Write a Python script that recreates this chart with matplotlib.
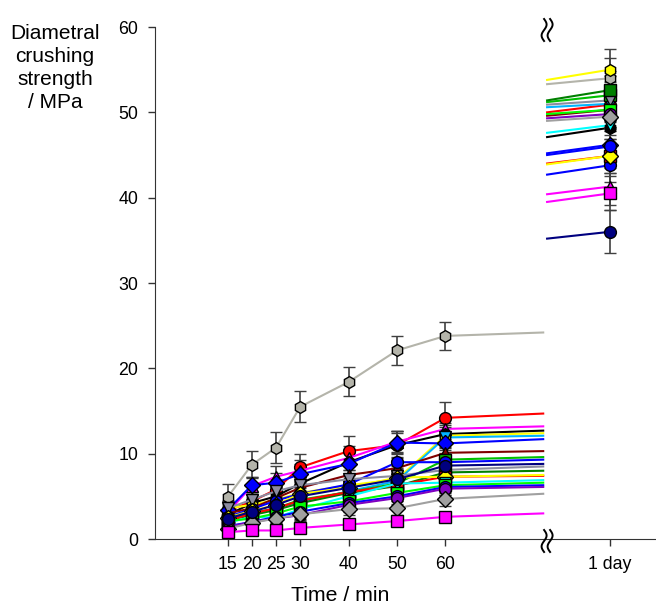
import numpy as np
import matplotlib
matplotlib.use("Agg")
import matplotlib.pyplot as plt
from matplotlib.lines import Line2D
from matplotlib.transforms import IdentityTransform

plt.rcParams['font.family'] = ['Liberation Sans', 'DejaVu Sans']

# Data
times = [15, 20, 25, 30, 40, 50, 60]
tick_labels = ['15', '20', '25', '30', '40', '50', '60', '1 day']
day_pos = 94        # where "1 day" sits on the broken axis
left_end_x = 80.2   # fitted curve drawn up to the break
right_start_x = 81.0

# (colour, marker): values at 15..60 min, fitted value at break (left),
# fitted value after break (right), 1-day value, errors
colors = ['#b4b4aa', '#ff0000', '#ff00ff', '#000000', '#ffff00', '#00b4ff',
          '#0000ff', '#800000', '#00c000', '#0000ff', '#8c8ca0', '#008000',
          '#ff0000', '#ffff00', '#00ffff', '#00ff00', '#0000ff', '#8000c0',
          '#a0a0a0', '#ff00ff', '#000080']
markers = ['h', 'o', '^', 'h', 'h', 'v', 'D', '^', 's', 'o', 'v', 's',
           's', 'D', 'v', 's', 'o', 'o', 'D', 's', 'o']

values = [
    [4.9, 8.7, 10.7, 15.5, 18.4, 22.1, 23.8],
    [3.3, 4.4, 5.8, 8.4, 10.3, 11.0, 14.2],
    [3.1, 6.2, 7.3, 8.0, 9.5, 11.4, 12.9],
    [2.8, 4.2, 5.0, 6.5, 9.0, 11.0, 12.3],
    [3.6, 4.0, 4.6, 5.4, 6.3, 7.0, 12.1],
    [2.2, 3.0, 3.6, 4.3, 5.6, 6.8, 11.9],
    [3.4, 6.3, 6.6, 7.6, 8.8, 11.3, 11.2],
    [3.0, 3.6, 4.8, 6.0, 7.5, 8.3, 10.1],
    [2.4, 3.0, 3.6, 4.6, 5.5, 6.5, 9.3],
    [2.6, 3.5, 4.5, 5.3, 6.4, 9.0, 9.0],
    [3.6, 4.6, 5.6, 6.3, 7.0, 7.4, 8.1],
    [2.2, 2.8, 3.4, 4.2, 5.4, 6.2, 7.8],
    [2.1, 3.0, 3.6, 4.5, 5.5, 6.3, 7.3],
    [2.5, 3.3, 4.0, 5.3, 6.0, 7.2, 7.3],
    [1.9, 2.6, 2.5, 3.5, 5.0, 6.5, 6.6],
    [2.1, 2.4, 3.0, 3.8, 4.4, 5.4, 6.3],
    [1.5, 2.0, 2.6, 3.2, 4.2, 5.0, 6.1],
    [1.4, 2.0, 2.4, 2.8, 4.0, 4.8, 5.9],
    [1.2, 1.9, 2.4, 2.9, 3.5, 3.6, 4.7],
    [0.8, 1.0, 1.0, 1.3, 1.7, 2.1, 2.6],
    [2.4, 3.2, 4.0, 5.0, 6.0, 7.0, 8.6],
]
errors = [
    [1.5, 1.6, 1.8, 1.8, 1.7, 1.7, 1.6],
    [1.0, 1.1, 1.2, 1.6, 1.8, 1.7, 1.8],
    [1.0, 1.1, 1.2, 1.3, 1.4, 1.3, 1.2],
    [0.9, 1.0, 1.1, 1.3, 1.5, 1.4, 1.3],
    [0.9, 0.9, 1.0, 1.1, 1.2, 1.2, 1.3],
    [0.8, 0.9, 1.0, 1.0, 1.1, 1.2, 1.2],
    [0.9, 1.0, 1.1, 1.2, 1.3, 1.3, 1.2],
    [0.8, 0.9, 1.0, 1.1, 1.2, 1.2, 1.2],
    [0.7, 0.8, 0.9, 1.0, 1.1, 1.1, 1.1],
    [0.7, 0.8, 0.9, 1.0, 1.1, 1.2, 1.1],
    [0.8, 0.9, 1.0, 1.0, 1.1, 1.1, 1.0],
    [0.7, 0.8, 0.8, 0.9, 1.0, 1.0, 1.0],
    [0.7, 0.8, 0.8, 0.9, 1.0, 1.0, 1.0],
    [0.7, 0.8, 0.9, 1.0, 1.0, 1.1, 1.0],
    [0.6, 0.7, 0.8, 0.8, 0.9, 1.0, 0.9],
    [0.6, 0.7, 0.7, 0.8, 0.9, 0.9, 0.9],
    [0.6, 0.6, 0.7, 0.8, 0.8, 0.9, 0.9],
    [0.5, 0.6, 0.7, 0.7, 0.8, 0.8, 0.8],
    [0.5, 0.6, 0.6, 0.7, 0.7, 0.8, 0.8],
    [0.4, 0.4, 0.4, 0.5, 0.5, 0.5, 0.5],
    [0.7, 0.8, 0.9, 1.0, 1.0, 1.1, 1.1],
]
left_end = [24.2, 14.7, 13.2, 12.7, 12.4, 12.1, 11.7, 10.3, 9.6, 9.3, 8.5,
            8.0, 7.4, 7.5, 6.9, 6.6, 6.3, 6.1, 5.3, 3.0, 8.8]
right_start = [53.3, 50.0, 40.4, 47.1, 53.8, 50.6, 45.2, 49.6, 51.2, 42.7, 50.9,
               51.4, 44.0, 43.9, 47.6, 49.8, 45.0, 49.3, 49.0, 39.5, 35.2]
day1 = [54.0, 50.9, 41.3, 48.2, 55.0, 51.0, 46.2, 50.3, 52.0, 43.8, 51.4,
        52.6, 44.9, 44.9, 48.5, 50.3, 46.0, 49.8, 49.5, 40.5, 36.0]
day1_err = [2.4, 2.0, 2.2, 2.2, 2.4, 2.0, 2.1, 2.0, 2.2, 2.0, 2.1,
            2.3, 2.0, 2.0, 2.1, 2.1, 2.0, 2.0, 2.1, 2.0, 2.5]

fig = plt.figure(figsize=(6.56, 6.05), dpi=100)
ax = fig.add_axes([155 / 656, 66 / 605, 501 / 656, 512 / 605])

for c, m, v, e, le, rs, d, de in zip(colors, markers, values, errors,
                                     left_end, right_start, day1, day1_err):
    ax.plot([60, left_end_x], [v[-1], le], color=c, lw=1.5, zorder=2)
    ax.plot([right_start_x, day_pos], [rs, d], color=c, lw=1.5, zorder=2)
    ax.errorbar(times, v, yerr=e, color=c, lw=1.5, marker=m, ms=8.5,
                mfc=c, mec='black', mew=1.0, ecolor='#404040', elinewidth=1.2,
                capsize=4.5, capthick=1.2, zorder=3)
    ax.errorbar([day_pos], [d], yerr=[de], fmt=m, ms=8.5, mfc=c, mec='black',
                mew=1.0, ecolor='#404040', elinewidth=1.2, capsize=4.5,
                capthick=1.2, zorder=3)

ax.set_xlim(0, 103.5)
ax.set_ylim(0, 60)
ax.spines['top'].set_visible(False)
ax.spines['right'].set_visible(False)
ax.spines['left'].set_color('#333333')
ax.spines['bottom'].set_color('#333333')
ax.set_xticks(times + [day_pos])
ax.set_xticklabels(tick_labels)
ax.set_yticks(range(0, 61, 10))
ax.tick_params(direction='out', length=5, width=1, labelsize=12.8,
               color='#333333', pad=7)

ax.set_xlabel('Time / min', fontsize=15.3, va='center')
ax.xaxis.set_label_coords(0.37, -0.111)
fig.text(55 / 656, 1 - 24 / 605, 'Diametral\ncrushing\nstrength\n/ MPa',
         ha='center', va='top', fontsize=15, linespacing=1.27)

# axis break marks
def break_mark(xd, yd):
    t = np.linspace(-1, 1, 40)
    for dx in (-3, 3):
        xs = xd + dx + 2.5 * np.sin(np.pi * t)
        ys = yd + 11 * t
        fig.add_artist(Line2D(xs, ys, transform=IdentityTransform(),
                              color='black', lw=1.4))

bx, by = ax.transData.transform((81.0, 0))
break_mark(bx, by - 2)
break_mark(bx, fig.bbox.height - 30)

fig.savefig('out.png', dpi=100, facecolor='white')
